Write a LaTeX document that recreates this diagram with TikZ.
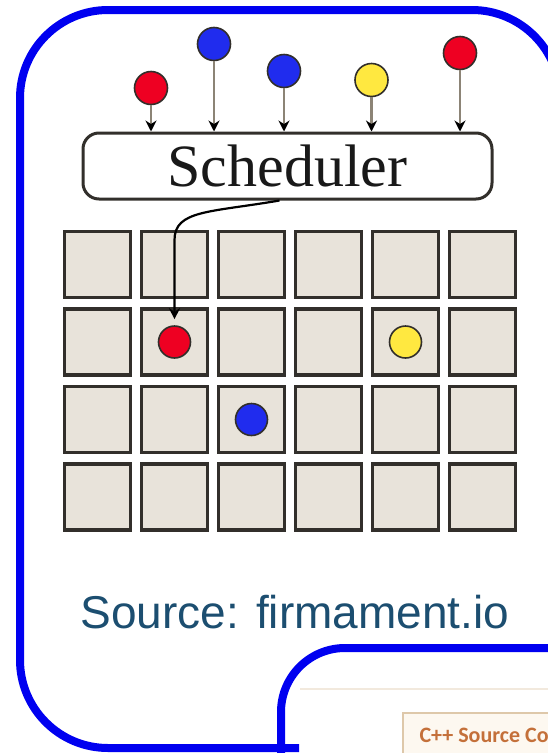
\documentclass[tikz,border=0pt]{standalone}
\usepackage{fontspec}
\usepackage{tikz}
\usepackage{xcolor}
\usetikzlibrary{arrows.meta}
\setmainfont{Liberation Serif}
\newfontfamily\arialfont{Liberation Sans}
\newfontfamily\calfont{Carlito}
\definecolor{frameblue}{RGB}{0,0,240}
\definecolor{cellfill}{RGB}{232,227,218}
\definecolor{edgegray}{RGB}{50,47,43}
\definecolor{jobred}{RGB}{238,0,34}
\definecolor{jobblue}{RGB}{32,44,238}
\definecolor{jobyellow}{RGB}{255,232,64}
\definecolor{feedgray}{RGB}{140,132,118}
\definecolor{srcblue}{RGB}{28,78,112}
\definecolor{cppedge}{RGB}{222,200,170}
\definecolor{cppfill}{RGB}{253,248,240}
\definecolor{cpptext}{RGB}{196,112,58}

\begin{document}
\begin{tikzpicture}[x=1pt,y=-1pt,
  frame/.style={draw=frameblue,line width=8pt,rounded corners=#1},
  cell/.style={draw=edgegray,fill=cellfill,line width=3.8pt,minimum size=66pt,inner sep=0pt},
  job/.style={circle,draw=edgegray,fill=#1,line width=1.6pt,minimum size=33pt,inner sep=0pt},
  feed/.style={draw=feedgray,line width=2.4pt,-{Stealth[black,length=11pt,width=11pt]}},
  sched/.style={draw=edgegray,fill=white,line width=3pt,rounded corners=16pt,
                minimum width=409pt,minimum height=66pt,inner sep=0pt,text=black!90}]
  \useasboundingbox (0,0) rectangle (548,753);
  \clip (0,0) rectangle (548,753);

  % outer frames
  \draw[frame=88pt] (299,748) -- (20,748) -- (20,10) -- (560,10) -- (560,820);
  \draw[frame=64pt] (281,820) -- (281,648) -- (640,648);
  \draw[cppedge!40,line width=1.5pt] (300,689) -- (560,689);
  \node[draw=cppedge,fill=cppfill,line width=2pt,anchor=north west,minimum width=220pt,
        minimum height=80pt,inner sep=0pt] (cppbox) at (402,712) {};
  \node[anchor=base west,text=cpptext,font=\calfont\bfseries\fontsize{22}{22}\selectfont]
        (cpplabel) at (416,742) {C++ Source Code};

  % scheduler and incoming jobs
  \node[sched,font=\fontsize{60}{60}\selectfont] (sch) at (287.5,166) {Scheduler};
  \node[job=jobred]    (j1) at (151,88) {};
  \node[job=jobblue]   (j2) at (214,44) {};
  \node[job=jobblue]   (j3) at (284,71) {};
  \node[job=jobyellow] (j4) at (371.5,80) {};
  \node[job=jobred]    (j5) at (460,53) {};
  \foreach \j in {1,...,5}
    \draw[feed] (j\j) -- (j\j |- sch.north);

  % cluster grid
  \foreach \c in {0,...,5}
    \foreach \r in {0,...,3}
      \node[cell] (c\c\r) at (97.5+77*\c,264.5+77.5*\r) {};
  \node[job=jobred,minimum size=32pt]    (t1) at (c11) {};
  \node[job=jobyellow,minimum size=32pt] (t2) at (c41) {};
  \node[job=jobblue,minimum size=32pt]   (t3) at (c22) {};

  \coordinate (out) at ([xshift=-8pt]sch.south);
  \draw[black,line width=2.2pt,-{Stealth[length=11pt,width=11pt]}]
    (out) .. controls +(-70,12) and +(0,-30) .. (t1 |- 0,240) -- ([yshift=6pt]t1.north);

  \node[anchor=base west,text=srcblue,font=\arialfont\fontsize{46}{46}\selectfont]
        (src) at (77,628) {Source: firmament.io};
\end{tikzpicture}
\end{document}
